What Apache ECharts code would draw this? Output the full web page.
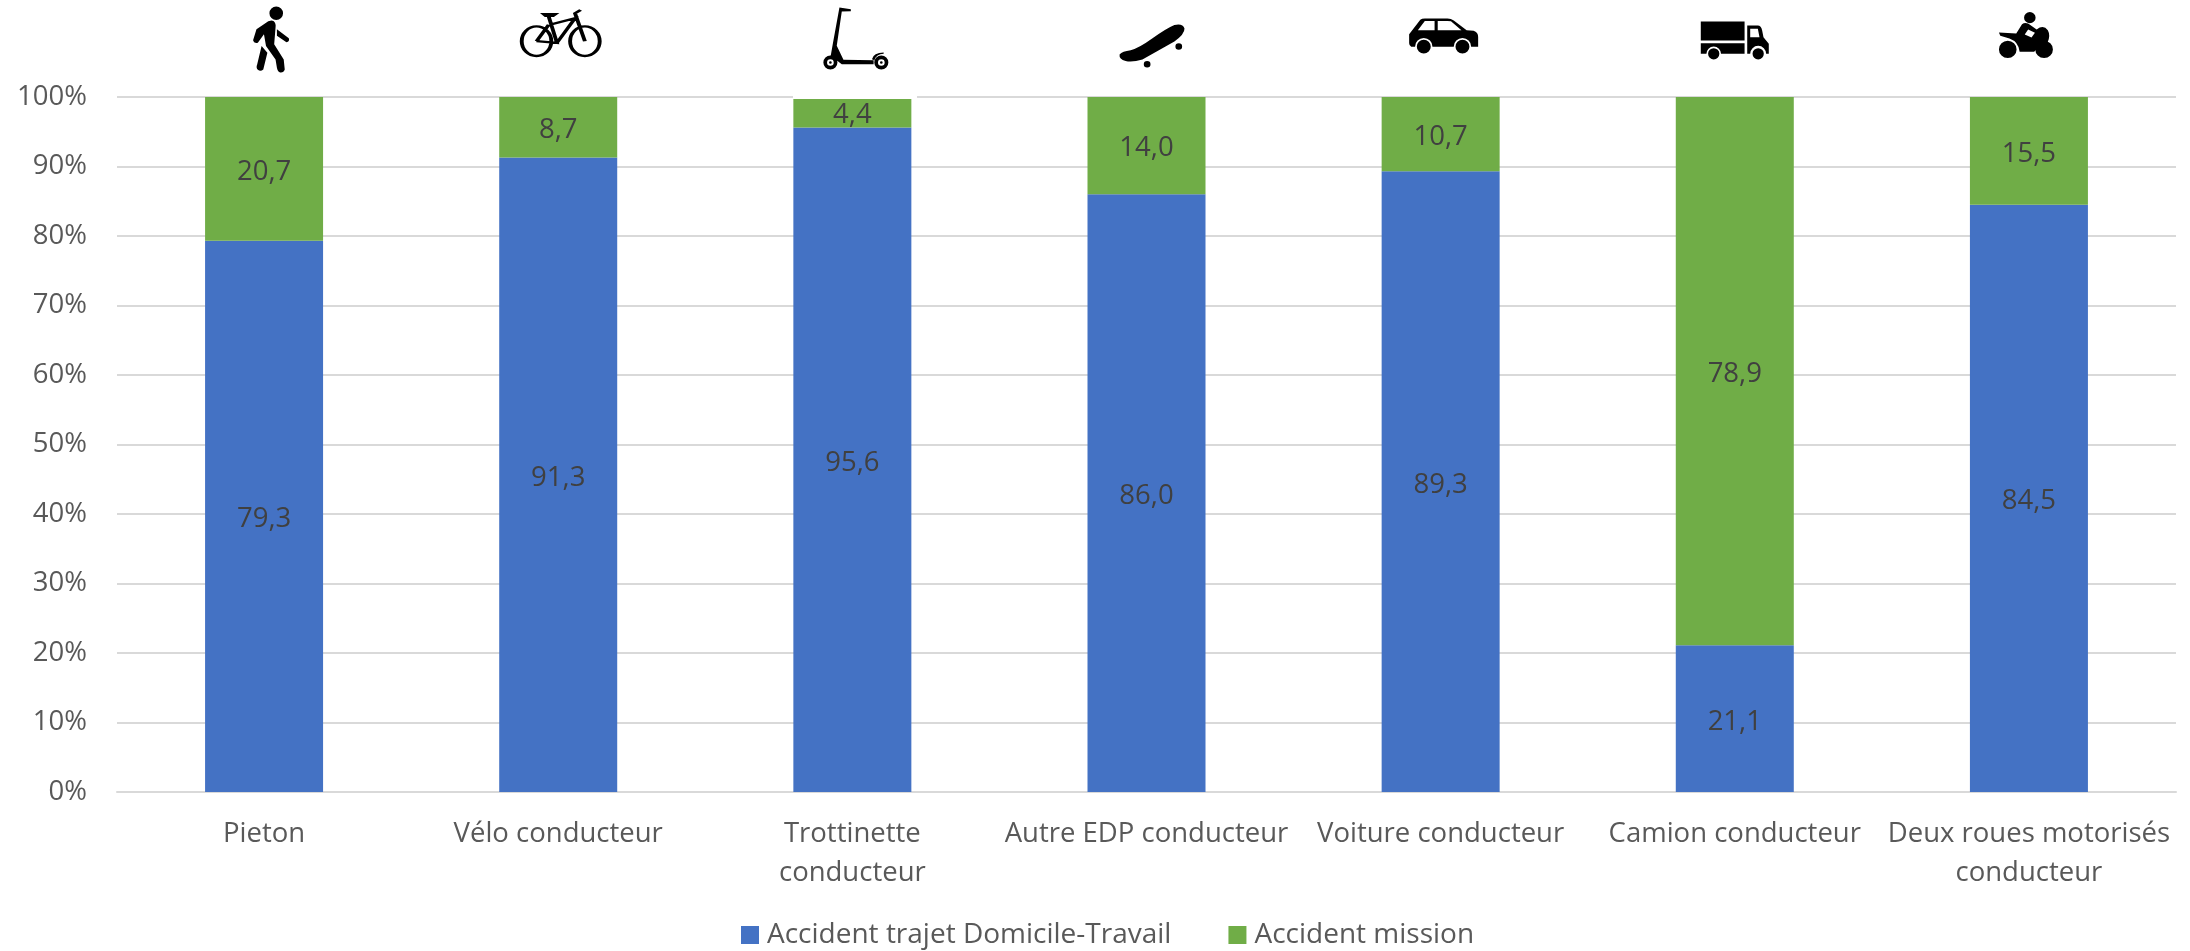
<!DOCTYPE html>
<html>
<head>
<meta charset="utf-8">
<style>html,body{margin:0;padding:0;background:#fff}#chart{width:2190px;height:951px}</style>
<script src="https://cdn.jsdelivr.net/npm/echarts@6/dist/echarts.min.js"></script>
</head>
<body>
<div id="chart"></div>
<script>
// Accident shares by mode of travel
const categories = ['Pieton', 'Vélo conducteur', 'Trottinette\nconducteur', 'Autre EDP conducteur', 'Voiture conducteur', 'Camion conducteur', 'Deux roues motorisés\nconducteur'];
const trajetValues = [79.3, 91.3, 95.6, 86.0, 89.3, 21.1, 84.5];
const missionValues = [20.7, 8.7, 4.4, 14.0, 10.7, 78.9, 15.5];
const percentTicks = [0, 10, 20, 30, 40, 50, 60, 70, 80, 90, 100];

// Circle and ring outlines for the pictograms
const disc = (x, y, r) => `M${x - r} ${y}A${r} ${r} 0 1 1 ${x + r} ${y}A${r} ${r} 0 1 1 ${x - r} ${y}Z`;
const hole = (x, y, r) => `M${x - r} ${y}A${r} ${r} 0 1 0 ${x + r} ${y}A${r} ${r} 0 1 0 ${x - r} ${y}Z`;

const iconPaths = [
  // walker
  disc(138, 37, 20) +
  'M105 68Q118 56 130 60Q138 66 136 80L132 130L160 175L163 205Q160 215 150 214Q142 212 140 200L136 175L108 135L102 100L84 125Q72 128 70 118L80 85Z' +
  'M140 85L175 112Q178 122 168 124L140 104Z' +
  'M95 135L112 155L100 205Q92 212 84 206Q78 200 82 190Z',
  // bicycle
  disc(78, 125, 45) + disc(225, 125, 45) +
  'M78 125L140 130L115 50M118 75L195 55L140 130M78 125L115 75M225 125L195 40L212 30M100 43L135 43L128 48L106 48Z',
  // scooter
  disc(61, 185, 21) + hole(61, 185, 10) + disc(61, 185, 4) +
  disc(213, 185, 21) + hole(213, 185, 10) + disc(213, 185, 4) +
  'M88 20L122 25L122 31L95 32L80 135L100 177L190 178L190 190L95 190L62 165L68 130Z' +
  'M185 175Q190 155 220 155L220 159Q198 160 192 178Z',
  // skateboard
  'M32 135Q40 125 65 122Q90 115 130 85Q170 55 195 44Q220 38 225 55Q226 72 195 95L100 150Q70 160 50 155Q30 150 32 135Z' +
  disc(208, 110, 10) + disc(114, 165, 10),
  // car
  'M30 72L62 30Q66 26 75 26L140 26Q150 26 158 32L195 60L215 62Q228 66 228 80L228 108L208 108A25 25 0 0 0 158 108L97 108A25 25 0 0 0 47 108L36 108Q30 105 30 98Z' +
  'M55 60L103 60L103 33L75 33Z' +
  'M112 60L180 60L150 34Q145 33 140 33L112 33Z' +
  disc(72, 108, 20) + disc(183, 108, 20),
  // lorry
  'M33 33L165 33L165 90L33 90Z' +
  'M33 98L165 98L165 130L94 130A22 22 0 0 0 50 130L33 130Z' +
  'M173 45L205 45Q215 45 218 60L222 80L238 100L238 130L230 130A24 24 0 0 0 182 130L173 130Z' +
  'M182 80L210 80L205 55L182 55Z' +
  disc(72, 130, 17) + disc(206, 130, 17),
  // motorbike
  disc(135, 52, 17) + disc(70, 148, 26) + disc(177, 148, 26) +
  'M44 97L95 100L112 72Q120 65 130 70L155 88Q175 72 188 90Q196 105 188 125Q165 125 148 155L105 155Q102 125 75 115L48 107Z' +
  'M120 103L140 112L150 98L130 88Z'
];
const iconSizes = [[36, 66], [78, 46], [65, 62], [65, 43], [69, 35], [68, 38], [54, 46]];
const iconOffsets = [[7, -57.5], [2.5, -64], [3.5, -58.5], [5.5, -51], [3, -61], [0, -56.5], [-3, -62]];

const textColor = '#595959';
const uiFont = '"Open Sans", sans-serif';
const decimalComma = p => p.value.toFixed(1).replace('.', ',');

const barLabel = {
  show: true,
  position: 'inside',
  offset: [0, 3],
  formatter: decimalComma,
  color: '#404040',
  fontFamily: uiFont,
  fontSize: 27.5
};

const chart = echarts.init(document.getElementById('chart'), null, { renderer: 'canvas' });
chart.setOption({
  animation: false,
  backgroundColor: '#ffffff',
  legend: {
    left: 736,
    top: 916,
    itemWidth: 18,
    itemHeight: 18,
    itemGap: 57,
    icon: 'rect',
    data: ['Accident trajet Domicile-Travail', 'Accident mission'],
    textStyle: { color: textColor, fontFamily: uiFont, fontSize: 28, padding: [0, 0, 0, 3] }
  },
  grid: { left: 117, right: 14, top: 97, bottom: 159 },
  xAxis: {
    type: 'category',
    data: categories,
    axisTick: { show: false },
    axisLine: { lineStyle: { color: '#d9d9d9', width: 2 } },
    axisLabel: { color: textColor, fontFamily: uiFont, fontSize: 27.5, lineHeight: 39, margin: 23, interval: 0 }
  },
  yAxis: {
    type: 'value',
    min: percentTicks[0],
    max: percentTicks[percentTicks.length - 1],
    interval: 10,
    axisLine: { show: false },
    axisTick: { show: false },
    axisLabel: { color: textColor, fontFamily: uiFont, fontSize: 27.5, margin: 30, padding: [5, 0, 0, 0], formatter: '{value}%' },
    splitLine: { lineStyle: { color: '#d9d9d9', width: 2 } }
  },
  series: [
    {
      name: 'Accident trajet Domicile-Travail',
      type: 'bar',
      stack: 'share',
      barWidth: 118,
      data: trajetValues,
      itemStyle: { color: '#4472c4' },
      label: barLabel
    },
    {
      name: 'Accident mission',
      type: 'bar',
      stack: 'share',
      barWidth: 118,
      data: missionValues,
      itemStyle: { color: '#70ad47' },
      label: barLabel
    },
    {
      // Pictogram above each column
      name: 'Pictogrammes',
      type: 'scatter',
      clip: false,
      silent: true,
      z: 5,
      data: categories.map((c, i) => ({
        value: [i, 100],
        symbol: 'path://' + iconPaths[i],
        symbolSize: iconSizes[i],
        symbolOffset: iconOffsets[i],
        itemStyle: i === 1
          ? { color: 'rgba(0,0,0,0)', borderColor: '#000', borderWidth: 3, opacity: 1 }
          : { color: '#000', opacity: 1 }
      }))
    }
  ],
  // The scooter pictogram sits on a white backing that nibbles the top of its column
  graphic: [{
    type: 'rect',
    z: 10,
    shape: { x: 793, y: 90, width: 124, height: 9 },
    style: { fill: '#ffffff' }
  }]
});
</script>
</body>
</html>
